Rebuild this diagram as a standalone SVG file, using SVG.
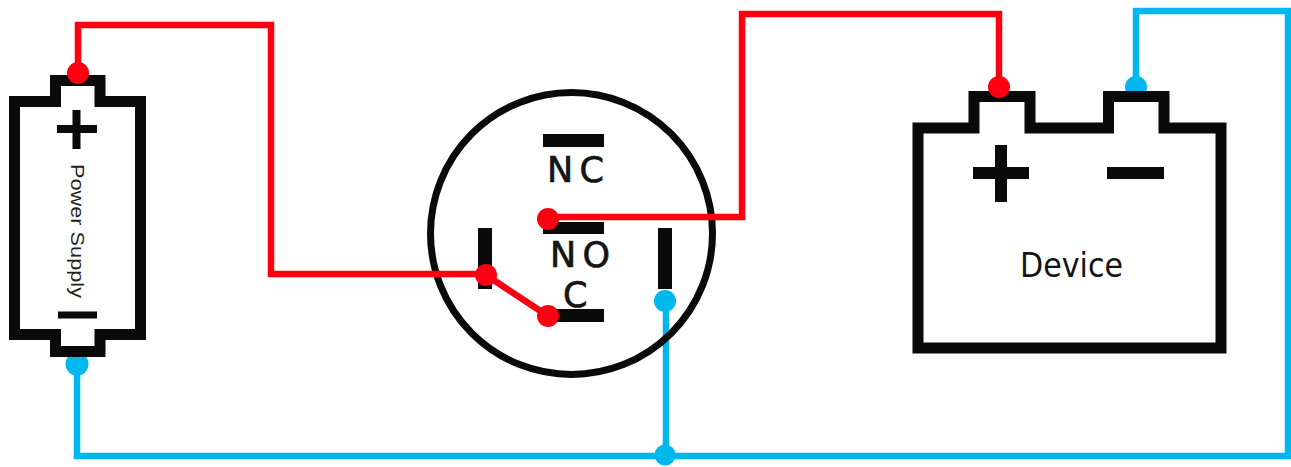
<svg xmlns="http://www.w3.org/2000/svg" width="1291" height="467" viewBox="0 0 1291 467">
<style>
.body{fill:none;stroke:#0a0a0a;stroke-width:11;stroke-linejoin:miter}
.bar{fill:#0a0a0a}
.red{fill:none;stroke:#fc0011;stroke-width:6.500}
.blue{fill:none;stroke:#00b7ee;stroke-width:6.500}
.rd{fill:#fc0011}
.bd{fill:#00b7ee}
.lbl{font-family:"DejaVu Sans",sans-serif;fill:#141414}
.heavy{stroke:#141414;stroke-width:0.700}
</style>
<rect width="1291" height="467" fill="#fff"/>
<g id="connectors-under">
<path class="blue" d="M77 364V456H1288V11H1136V87"/>
<path class="blue" d="M666 300V456"/>
<circle class="bd" cx="77" cy="364" r="11.500"/>
<circle class="bd" cx="1136" cy="87" r="11"/>
<circle class="bd" cx="665" cy="455" r="10.500"/>
</g>
<g id="power-supply">
<path class="body" d="M14.500 101.500H55.500V80.500H100V101.500H140.500V334.500H100V351.500H55.500V334.500H14.500Z"/>
<rect class="bar" x="57" y="125" width="40" height="8"/>
<rect class="bar" x="72.500" y="110" width="8" height="39"/>
<rect class="bar" x="58" y="311.500" width="39" height="7"/>
<text transform="translate(71 164) rotate(90)" font-family="Liberation Sans, sans-serif" font-size="19" fill="#222" textLength="134" lengthAdjust="spacingAndGlyphs">Power Supply</text>
</g>
<g id="switch">
<circle cx="571.500" cy="233.500" r="141" fill="none" stroke="#0a0a0a" stroke-width="7"/>
<rect class="bar" x="543" y="134" width="61" height="13"/>
<rect class="bar" x="543" y="222" width="61" height="12"/>
<rect class="bar" x="543" y="309" width="61" height="13"/>
<rect class="bar" x="478" y="228" width="14" height="61"/>
<rect class="bar" x="658" y="228" width="14" height="61"/>
<text class="lbl heavy" x="547" y="182" font-size="35" textLength="57" lengthAdjust="spacing">NC</text>
<text class="lbl heavy" x="550" y="267" font-size="35" textLength="60" lengthAdjust="spacing">NO</text>
<text class="lbl heavy" x="563" y="307" font-size="35">C</text>
</g>
<g id="device">
<path class="body" d="M918 128H974V96.500H1030V128H1108.500V96.500H1164V128H1221V348H918Z"/>
<rect class="bar" x="973" y="167" width="56" height="12"/>
<rect class="bar" x="995" y="145" width="12" height="57"/>
<rect class="bar" x="1107" y="167" width="57" height="12"/>
<text class="lbl" x="1020" y="277" font-size="34" textLength="103" lengthAdjust="spacingAndGlyphs">Device</text>
</g>
<g id="connectors">
<path class="red" d="M78 73V25H271V274H486"/>
<path class="red" d="M486 275L548 316"/>
<path class="red" d="M548 217H742V14H999V87"/>
<circle class="rd" cx="78" cy="73" r="11"/>
<circle class="rd" cx="486" cy="275" r="11"/>
<circle class="rd" cx="548" cy="316" r="11"/>
<circle class="rd" cx="548" cy="219" r="11"/>
<circle class="rd" cx="999" cy="87" r="11"/>
<circle class="bd" cx="665" cy="301" r="11"/>
</g>
</svg>
